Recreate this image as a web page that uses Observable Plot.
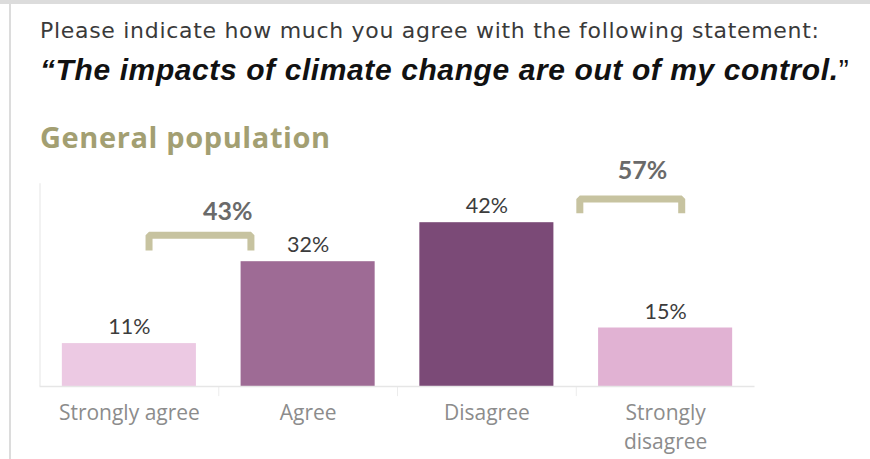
<!DOCTYPE html>
<html><head><meta charset="utf-8">
<script src="https://cdn.jsdelivr.net/npm/d3@7"></script>
<script src="https://cdn.jsdelivr.net/npm/@observablehq/plot@0.6"></script>
<style>
body{margin:0;background:#fff;}
#frame{position:relative;width:870px;height:459px;overflow:hidden;background:#fff;}
#topbar{position:absolute;left:0;top:0;width:870px;height:4px;background:#dcdcdc;}
#leftbar{position:absolute;left:9px;top:4px;width:2px;height:455px;background:#dcdcdc;}
.t{position:absolute;left:40px;white-space:nowrap;line-height:1;margin:0;}
#q{top:18px;font:400 22px "DejaVu Sans";letter-spacing:0.7px;color:#3a3a3a;}
#s{top:53px;font:italic 700 30px "Liberation Sans";letter-spacing:0.6px;color:#111;}
#s .cq{font-style:normal;font-weight:400;}
#g{top:117px;font:700 29px "Open Sans";letter-spacing:0.6px;color:#a39f72;}
#chart{position:absolute;left:0;top:150px;}
</style></head>
<body>
<div id="frame">
  <div id="topbar"></div><div id="leftbar"></div>
  <div class="t" id="q">Please indicate how much you agree with the following statement:</div>
  <div class="t" id="s">“The impacts of climate change are out of my control.<span class="cq">”</span></div>
  <div class="t" id="g">General population</div>
  <div id="chart"></div>
</div>
<script>
const categories = ["Strongly agree", "Agree", "Disagree", "Strongly disagree"];
const tickLabels = ["Strongly agree", "Agree", "Disagree", "Strongly\ndisagree"];
const shares = [11, 32, 42, 15];
const barColors = ["#ecc9e3", "#9e6b95", "#7b4a77", "#e1b2d3"];

const groupLabels = ["43%", "57%"];
const groupStart = [0.11, 2.52];
const groupEnd = [0.68, 3.09];
const groupTop = [38.8, 48.1];
const groupFoot = [34.9, 44.4];
const groupLabelX = [0.55, 2.87];
const groupLabelY = [42.6, 53.3];

const bars = categories.map((c, i) => ({c, i, v: shares[i], tick: tickLabels[i]}));
const bracketPts = [];
groupLabels.forEach((g, k) => {
  bracketPts.push({g, x: groupStart[k], y: groupFoot[k]});
  bracketPts.push({g, x: groupStart[k], y: groupTop[k]});
  bracketPts.push({g, x: groupEnd[k], y: groupTop[k]});
  bracketPts.push({g, x: groupEnd[k], y: groupFoot[k]});
});
const groups = groupLabels.map((label, k) => ({label, x: groupLabelX[k], y: groupLabelY[k]}));

const chart = Plot.plot({
  width: 870,
  height: 309,
  marginLeft: 39.5,
  marginRight: 115.5,
  marginTop: 33.2,
  marginBottom: 73,
  style: {fontFamily: "Lato", background: "transparent"},
  x: {domain: [-0.5, 3.5], axis: null},
  y: {domain: [0, 52], axis: null},
  color: {domain: categories, range: barColors},
  marks: [
    Plot.ruleX([-0.5], {y1: 0, y2: 52, stroke: "#eeeeee", strokeWidth: 1.5}),
    Plot.ruleX([0.5, 1.5, 2.5], {y1: 0, y2: -2.6, stroke: "#ececec"}),
    Plot.rectY(bars, {x1: d => d.i - 0.375, x2: d => d.i + 0.375, y: "v", fill: "c"}),
    Plot.ruleY([0], {stroke: "#e6e6e6", strokeWidth: 1.5}),
    Plot.text(bars, {x: "i", y: "v", text: d => d.v + "%", dy: -9.5, lineAnchor: "bottom", fontSize: 21.5, fill: "#3c3c3c", fontFamily: "Lato"}),
    Plot.text(bars, {x: "i", y: 0, text: "tick", dy: 12, lineAnchor: "top", fontSize: 21, lineHeight: 1.42, fill: "#8c8c8c", fontFamily: "Open Sans", letterSpacing: 0.8}),
    Plot.line(bracketPts, {x: "x", y: "y", z: "g", stroke: "#c7c3a0", strokeWidth: 7, strokeLinejoin: "miter", strokeLinecap: "butt"}),
    Plot.text(groups, {x: "x", y: "y", text: "label", lineAnchor: "bottom", fontSize: 25, fontWeight: "bold", fill: "#6a6a6a", fontFamily: "Lato"})
  ]
});
document.getElementById("chart").appendChild(chart);
</script>
</body></html>
